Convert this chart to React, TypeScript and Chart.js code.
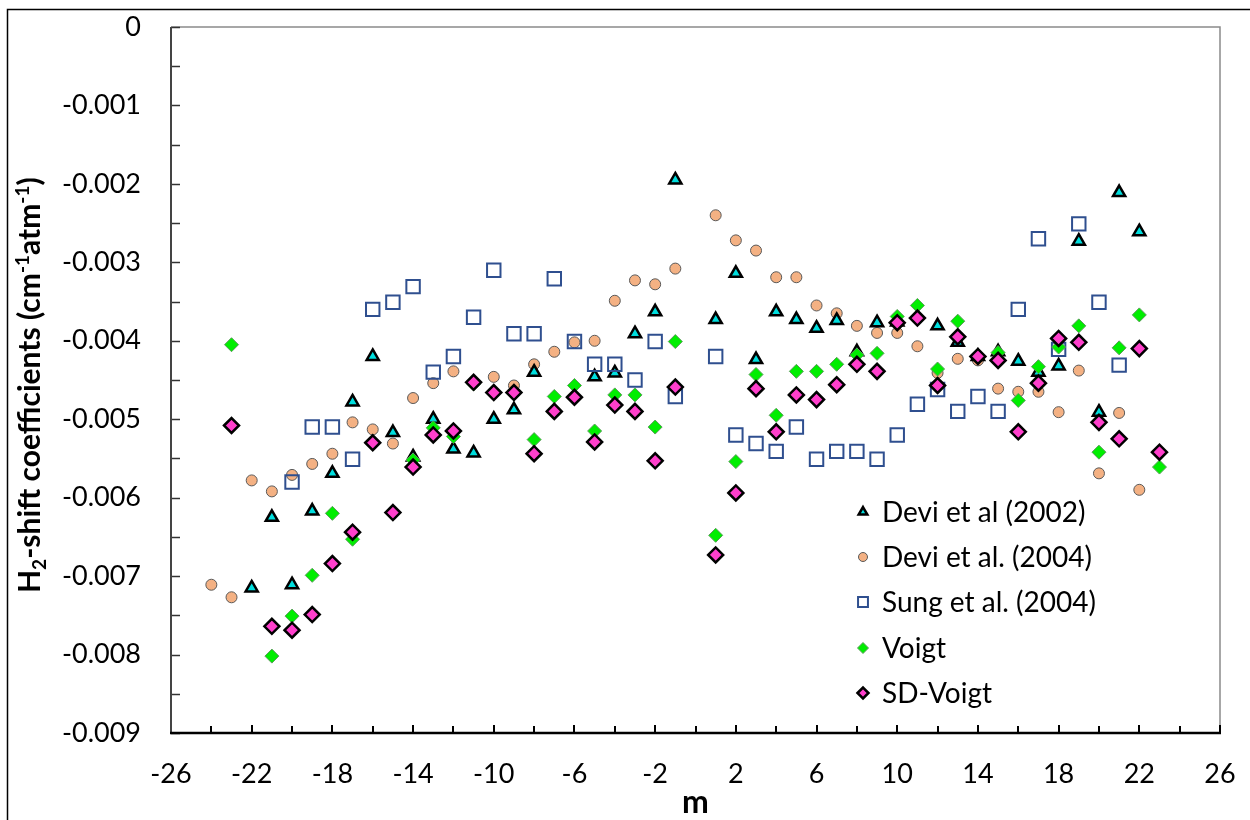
import React, { useEffect, useRef } from "react";
import { Chart, registerables } from "chart.js";

Chart.register(...registerables);

const FONT = "Lato, 'Open Sans', sans-serif";

// ---------- data ----------
const mDevi2002 = [-22, -21, -20, -19, -18, -17, -16, -15, -14, -13, -12, -11, -10, -9, -8, -5, -4, -3, -2, -1, 1, 2, 3, 4, 5, 6, 7, 8, 9, 10, 12, 13, 14, 15, 16, 17, 18, 19, 20, 21, 22];
const shiftDevi2002 = [-0.00715, -0.00625, -0.00711, -0.00617, -0.00569, -0.00478, -0.0042, -0.00517, -0.00548, -0.005, -0.00538, -0.00543, -0.005, -0.00488, -0.0044, -0.00446, -0.00441, -0.00391, -0.00363, -0.00195, -0.00373, -0.00314, -0.00424, -0.00363, -0.00373, -0.00384, -0.00374, -0.00414, -0.00377, -0.00376, -0.00381, -0.00402, -0.0042, -0.00414, -0.00426, -0.0044, -0.00432, -0.00273, -0.00491, -0.00211, -0.00261];

const mDevi2004 = [-24, -23, -22, -21, -20, -19, -18, -17, -16, -15, -14, -13, -12, -10, -9, -8, -7, -6, -5, -4, -3, -2, -1, 1, 2, 3, 4, 5, 6, 7, 8, 9, 10, 11, 12, 13, 14, 15, 16, 17, 18, 19, 20, 21, 22];
const shiftDevi2004 = [-0.00711, -0.00727, -0.00578, -0.00592, -0.00571, -0.00557, -0.00544, -0.00504, -0.00513, -0.00531, -0.00473, -0.00454, -0.00439, -0.00446, -0.00457, -0.0043, -0.00414, -0.00402, -0.004, -0.00349, -0.00323, -0.00328, -0.00308, -0.0024, -0.00272, -0.00285, -0.00319, -0.00319, -0.00355, -0.00365, -0.00381, -0.0039, -0.0039, -0.00407, -0.00441, -0.00423, -0.00425, -0.00461, -0.00465, -0.00465, -0.00491, -0.00438, -0.00569, -0.00492, -0.0059];

const mSung2004 = [-20, -19, -18, -17, -16, -15, -14, -13, -12, -11, -10, -9, -8, -7, -6, -5, -4, -3, -2, -1, 1, 2, 3, 4, 5, 6, 7, 8, 9, 10, 11, 12, 13, 14, 15, 16, 17, 18, 19, 20, 21];
const shiftSung2004 = [-0.0058, -0.0051, -0.0051, -0.00551, -0.0036, -0.00351, -0.00331, -0.0044, -0.0042, -0.0037, -0.0031, -0.00391, -0.00391, -0.00321, -0.00401, -0.0043, -0.0043, -0.0045, -0.00401, -0.00471, -0.0042, -0.0052, -0.00531, -0.00541, -0.0051, -0.00551, -0.00541, -0.00541, -0.00551, -0.0052, -0.00481, -0.00462, -0.0049, -0.00471, -0.0049, -0.0036, -0.0027, -0.00411, -0.00251, -0.00351, -0.00431];

const mVoigt = [-23, -21, -20, -19, -18, -17, -14, -13, -12, -11, -8, -7, -6, -5, -4, -3, -2, -1, 1, 2, 3, 4, 5, 6, 7, 8, 9, 10, 11, 12, 13, 15, 16, 17, 18, 19, 20, 21, 22, 23];
const shiftVoigt = [-0.00405, -0.00802, -0.00751, -0.00699, -0.0062, -0.00653, -0.00552, -0.00511, -0.00522, -0.00455, -0.00526, -0.00471, -0.00457, -0.00515, -0.00469, -0.00469, -0.0051, -0.00401, -0.00648, -0.00554, -0.00443, -0.00495, -0.00439, -0.00439, -0.0043, -0.00418, -0.00416, -0.00369, -0.00355, -0.00436, -0.00375, -0.00415, -0.00476, -0.00433, -0.00408, -0.00381, -0.00542, -0.00409, -0.00367, -0.00561];

const mSDVoigt = [-23, -21, -20, -19, -18, -17, -16, -15, -14, -13, -12, -11, -10, -9, -8, -7, -6, -5, -4, -3, -2, -1, 1, 2, 3, 4, 5, 6, 7, 8, 9, 10, 11, 12, 13, 14, 15, 16, 17, 18, 19, 20, 21, 22, 23];
const shiftSDVoigt = [-0.00508, -0.00764, -0.00769, -0.00749, -0.00684, -0.00644, -0.0053, -0.00619, -0.00561, -0.0052, -0.00515, -0.00453, -0.00466, -0.00466, -0.00544, -0.0049, -0.00472, -0.00529, -0.00482, -0.0049, -0.00553, -0.00459, -0.00673, -0.00594, -0.00461, -0.00516, -0.00469, -0.00475, -0.00456, -0.0043, -0.00439, -0.00377, -0.00371, -0.00457, -0.00395, -0.0042, -0.00425, -0.00516, -0.00454, -0.00397, -0.00402, -0.00504, -0.00525, -0.0041, -0.00542];

const seriesNames = ["Devi et al (2002)", "Devi et al. (2004)", "Sung et al. (2004)", "Voigt", "SD-Voigt"];

const xMin = -26;
const xMax = 26;
const xStep = 4;
const yMin = -0.009;
const yMax = 0;
const yStep = 0.001;

const xTitle = "m";
const yTitleParts = [
  { t: "H", k: "n" },
  { t: "2", k: "sub" },
  { t: "-shift coefficients (cm", k: "n" },
  { t: "-1", k: "sup" },
  { t: "atm", k: "n" },
  { t: "-1", k: "sup" },
  { t: ")", k: "n" },
];

// ---------- styles ----------
type Sty = { shape: string; r: number; lr: number; fill: string; stroke: string; lw: number };
const styles: Sty[] = [
  { shape: "triangle", r: 7, lr: 5, fill: "#00dede", stroke: "#000000", lw: 2.5 },
  { shape: "circle", r: 5.5, lr: 4.5, fill: "#f4b183", stroke: "#595959", lw: 1 },
  { shape: "rect", r: 9.5, lr: 7, fill: "rgba(255,255,255,0)", stroke: "#2f4f8f", lw: 2 },
  { shape: "rectRot", r: 7, lr: 5.5, fill: "#00ee00", stroke: "#5a9a5a", lw: 1 },
  { shape: "rectRot", r: 7.5, lr: 5.5, fill: "#ff3fcc", stroke: "#000000", lw: 2.5 },
];

const LABEL_SIZE = 27;
const LEGEND_SIZE = 28;

function drawMarker(ctx: CanvasRenderingContext2D, s: Sty, x: number, y: number, r: number) {
  ctx.save();
  ctx.beginPath();
  if (s.shape === "triangle") {
    for (let i = 0; i < 3; i++) {
      const a = (i * 2 * Math.PI) / 3;
      const px = x + Math.sin(a) * r;
      const py = y - Math.cos(a) * r;
      if (i === 0) ctx.moveTo(px, py);
      else ctx.lineTo(px, py);
    }
    ctx.closePath();
  } else if (s.shape === "circle") {
    ctx.arc(x, y, r, 0, Math.PI * 2);
  } else if (s.shape === "rect") {
    const h = Math.SQRT1_2 * r;
    ctx.rect(x - h, y - h, 2 * h, 2 * h);
  } else {
    ctx.moveTo(x - r, y);
    ctx.lineTo(x, y - r);
    ctx.lineTo(x + r, y);
    ctx.lineTo(x, y + r);
    ctx.closePath();
  }
  ctx.fillStyle = s.fill;
  ctx.fill();
  ctx.lineWidth = s.lw;
  ctx.strokeStyle = s.stroke;
  ctx.stroke();
  ctx.restore();
}

const framePlugin = {
  id: "frame",
  beforeDatasetsDraw(chart: any) {
    const { ctx, chartArea: a, scales } = chart;
    ctx.save();
    // outer border
    ctx.strokeStyle = "#000";
    ctx.lineWidth = 1.5;
    ctx.beginPath();
    ctx.moveTo(7.5, 830);
    ctx.lineTo(7.5, 9.5);
    ctx.lineTo(1260, 9.5);
    ctx.stroke();
    // top/right gray
    ctx.strokeStyle = "#8a8a8a";
    ctx.lineWidth = 1.5;
    ctx.beginPath();
    ctx.moveTo(a.left, a.top);
    ctx.lineTo(a.right, a.top);
    ctx.lineTo(a.right, a.bottom);
    ctx.stroke();
    // y ticks
    const ys = scales.y;
    ctx.strokeStyle = "#333";
    ctx.lineWidth = 1.5;
    for (let v = 0; v <= 18; v++) {
      const val = yMax - v * (yStep / 2);
      const py = Math.round(ys.getPixelForValue(val)) + 0.5;
      ctx.beginPath();
      ctx.moveTo(a.left, py);
      ctx.lineTo(a.left + 9, py);
      ctx.stroke();
    }
    const xs = scales.x;
    ctx.strokeStyle = "#000";
    ctx.lineWidth = 2;
    for (let v = xMin; v <= xMax; v += 2) {
      const px = Math.round(xs.getPixelForValue(v));
      ctx.beginPath();
      ctx.moveTo(px, a.bottom);
      ctx.lineTo(px, a.bottom - ((v - xMin) % 4 === 0 ? 8 : 7));
      ctx.stroke();
    }
    // axes
    ctx.strokeStyle = "#444";
    ctx.lineWidth = 2;
    ctx.beginPath();
    ctx.moveTo(a.left, a.top);
    ctx.lineTo(a.left, a.bottom);
    ctx.stroke();
    ctx.strokeStyle = "#000";
    ctx.lineWidth = 2.5;
    ctx.beginPath();
    ctx.moveTo(a.left - 1, a.bottom);
    ctx.lineTo(a.right + 1, a.bottom);
    ctx.stroke();
    ctx.restore();
  },
  afterDraw(chart: any) {
    const { ctx, chartArea: a } = chart;
    ctx.save();
    // x title
    ctx.fillStyle = "#000";
    ctx.font = `bold 32px ${FONT}`;
    ctx.textAlign = "center";
    ctx.textBaseline = "middle";
    ctx.fillText(xTitle, (a.left + a.right) / 2, 803);
    // y title (rotated, with sub/superscripts)
    const big = `bold 30px ${FONT}`;
    const small = `bold 19px ${FONT}`;
    ctx.translate(29, 593);
    ctx.rotate(-Math.PI / 2);
    let x = 0;
    ctx.textAlign = "left";
    ctx.textBaseline = "alphabetic";
    for (const p of yTitleParts) {
      ctx.font = p.k === "n" ? big : small;
      const dy = p.k === "sub" ? 17 : p.k === "sup" ? 0 : 11;
      ctx.fillText(p.t, x, dy);
      x += ctx.measureText(p.t).width;
    }
    ctx.restore();
    // legend
    ctx.save();
    ctx.font = `${LEGEND_SIZE}px ${FONT}`;
    ctx.fillStyle = "#000";
    ctx.textAlign = "left";
    ctx.textBaseline = "middle";
    const rows = [512, 557, 602, 648, 693];
    seriesNames.forEach((name, i) => {
      drawMarker(ctx, styles[i], 863, rows[i], styles[i].lr);
      ctx.fillText(name, 882, rows[i] + 1);
    });
    ctx.restore();
  },
};

function toPoints(ms: number[], vs: number[]) {
  return ms.map((m, i) => ({ x: m, y: vs[i] }));
}

export default function App() {
  const ref = useRef<HTMLCanvasElement | null>(null);
  useEffect(() => {
    if (!ref.current) return;
    const sets = [
      [mDevi2002, shiftDevi2002],
      [mDevi2004, shiftDevi2004],
      [mSung2004, shiftSung2004],
      [mVoigt, shiftVoigt],
      [mSDVoigt, shiftSDVoigt],
    ];
    const datasets = sets.map(([ms, vs], i) => ({
      label: seriesNames[i],
      data: toPoints(ms, vs),
      pointStyle: styles[i].shape,
      pointRadius: styles[i].r,
      pointBackgroundColor: styles[i].fill,
      pointBorderColor: styles[i].stroke,
      pointBorderWidth: styles[i].lw,
      showLine: false,
      order: [4, 5, 3, 2, 1][i],
    }));
    const chart = new Chart(ref.current, {
      type: "scatter",
      data: { datasets: datasets as any },
      options: {
        responsive: false,
        animation: false,
        devicePixelRatio: 1,
        layout: { padding: { top: 27, right: 30, left: 0, bottom: 0 } },
        plugins: { legend: { display: false }, tooltip: { enabled: false } },
        scales: {
          x: {
            type: "linear",
            min: xMin,
            max: xMax,
            grid: { display: false, drawTicks: false },
            border: { display: false },
            ticks: { stepSize: xStep, color: "#000", font: { family: FONT, size: LABEL_SIZE }, padding: 25, maxRotation: 0 },
            afterFit: (s: any) => { s.height = 87; s.paddingLeft = 0; s.paddingRight = 0; },
          },
          y: {
            type: "linear",
            min: yMin,
            max: yMax,
            grid: { display: false, drawTicks: false },
            border: { display: false },
            ticks: {
              stepSize: yStep,
              color: "#000",
              font: { family: FONT, size: LABEL_SIZE },
              padding: 30,
              callback: (v: any) => (Number(v) === 0 ? "0" : Number(v).toFixed(3)),
            },
            afterFit: (s: any) => { s.width = 171; s.paddingTop = 0; s.paddingBottom = 0; },
          },
        },
      },
      plugins: [framePlugin],
    });
    return () => chart.destroy();
  }, []);
  return (
    <div style={{ position: "absolute", left: 0, top: 0, width: 1250, height: 820, background: "#fff" }}>
      <canvas ref={ref} width={1250} height={820} />
    </div>
  );
}
